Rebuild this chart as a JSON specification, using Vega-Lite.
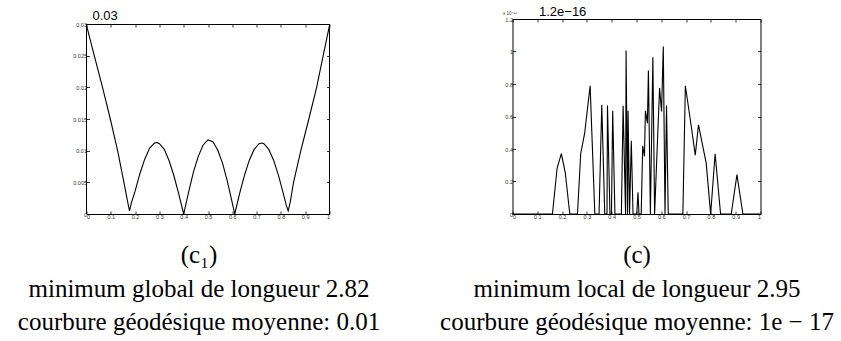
{
  "$schema": "https://vega.github.io/schema/vega-lite/v6.json",
  "background": "white",
  "padding": {"left": 16.5, "top": 5, "right": 5, "bottom": 0},
  "spacing": 183,
  "bounds": "flush",
  "config": {
    "view": {"stroke": null},
    "axis": {
      "grid": false,
      "domainColor": "black",
      "domainWidth": 1,
      "tickColor": "black",
      "tickWidth": 0.8,
      "tickSize": -3,
      "labelFont": "Liberation Sans",
      "labelFontSize": 5.5,
      "labelColor": "#333",
      "labelPadding": 3,
      "titleFont": "Liberation Serif",
      "titleFontSize": 25,
      "titleFontWeight": "normal",
      "titleColor": "black",
      "titleLineHeight": 33.5
    }
  },
  "hconcat": [
    {
      "width": 243,
      "height": 195,
      "data": {"values": [
        {"x": 0, "y": 0.0298},
        {"x": 0.032, "y": 0.025},
        {"x": 0.066, "y": 0.02},
        {"x": 0.098, "y": 0.015},
        {"x": 0.128, "y": 0.01},
        {"x": 0.154, "y": 0.005},
        {"x": 0.170, "y": 0.0018},
        {"x": 0.177, "y": 0.0005},
        {"x": 0.185, "y": 0.0018},
        {"x": 0.20, "y": 0.0036},
        {"x": 0.22, "y": 0.0064},
        {"x": 0.24, "y": 0.0087},
        {"x": 0.26, "y": 0.0104},
        {"x": 0.28, "y": 0.0112},
        {"x": 0.29, "y": 0.0113},
        {"x": 0.30, "y": 0.0111},
        {"x": 0.32, "y": 0.0102},
        {"x": 0.34, "y": 0.0084},
        {"x": 0.36, "y": 0.0060},
        {"x": 0.38, "y": 0.0031},
        {"x": 0.40, "y": 0.0},
        {"x": 0.42, "y": 0.0034},
        {"x": 0.44, "y": 0.0066},
        {"x": 0.46, "y": 0.0091},
        {"x": 0.48, "y": 0.0109},
        {"x": 0.50, "y": 0.0117},
        {"x": 0.52, "y": 0.0114},
        {"x": 0.54, "y": 0.0101},
        {"x": 0.56, "y": 0.0080},
        {"x": 0.58, "y": 0.0051},
        {"x": 0.60, "y": 0.0017},
        {"x": 0.61, "y": 0.0},
        {"x": 0.63, "y": 0.0032},
        {"x": 0.65, "y": 0.0061},
        {"x": 0.67, "y": 0.0085},
        {"x": 0.69, "y": 0.0102},
        {"x": 0.71, "y": 0.0111},
        {"x": 0.72, "y": 0.0112},
        {"x": 0.73, "y": 0.0111},
        {"x": 0.75, "y": 0.0102},
        {"x": 0.77, "y": 0.0085},
        {"x": 0.79, "y": 0.0061},
        {"x": 0.81, "y": 0.0032},
        {"x": 0.822, "y": 0.0014},
        {"x": 0.83, "y": 0.0005},
        {"x": 0.838, "y": 0.0018},
        {"x": 0.852, "y": 0.005},
        {"x": 0.882, "y": 0.01},
        {"x": 0.915, "y": 0.015},
        {"x": 0.947, "y": 0.02},
        {"x": 0.974, "y": 0.025},
        {"x": 1.0, "y": 0.0298}
      ]},
      "layer": [
        {
          "mark": {"type": "line", "color": "black", "strokeWidth": 1.1},
          "encoding": {
            "x": {"field": "x", "type": "quantitative", "scale": {"domain": [0, 1], "nice": false},
              "axis": {"orient": "bottom", "values": [0, 0.1, 0.2, 0.3, 0.4, 0.5, 0.6, 0.7, 0.8, 0.9, 1], "format": "~g",
                "title": ["(c₁)", "minimum global de longueur 2.82", "courbure géodésique moyenne: 0.01"], "titlePadding": 23, "titleX": 112}},
            "y": {"field": "y", "type": "quantitative", "scale": {"domain": [0, 0.0307895], "nice": false, "zero": false},
              "axis": {"orient": "left", "values": [0, 0.005, 0.01, 0.015, 0.02, 0.025, 0.03], "format": "~g", "title": null, "domain": false}}
          }
        },
        {
          "mark": {"type": "line", "opacity": 0},
          "encoding": {
            "x": {"field": "x", "type": "quantitative",
              "axis": {"orient": "top", "offset": -5, "values": [0, 0.1, 0.2, 0.3, 0.4, 0.5, 0.6, 0.7, 0.8, 0.9, 1], "labels": false,
                "title": "0.03", "titleAngle": 0, "titleFont": "Liberation Sans", "titleFontSize": 13, "titleColor": "black",
                "titleAlign": "left", "titleBaseline": "alphabetic", "titleX": 5.5, "titleY": -5}},
            "y": {"field": "y", "type": "quantitative",
              "axis": {"orient": "right", "values": [0, 0.005, 0.01, 0.015, 0.02, 0.025, 0.03], "labels": false, "title": null, "domain": false}}
          }
        },
        {
          "data": {"values": [{"side": 0}, {"side": 1}]},
          "mark": {"type": "rule", "color": "black", "strokeWidth": 1},
          "encoding": {
            "x": {"field": "side", "type": "quantitative", "axis": null},
            "y": {"datum": 0, "type": "quantitative", "axis": null},
            "y2": {"datum": 0.03}
          }
        }
      ],
      "resolve": {"axis": {"x": "independent", "y": "independent"}}
    },
    {
      "width": 248,
      "height": 195,
      "data": {"values": [
        {"x": 0, "y": 0},
        {"x": 0.161, "y": 0},
        {"x": 0.180, "y": 0.283},
        {"x": 0.197, "y": 0.371},
        {"x": 0.213, "y": 0.252},
        {"x": 0.231, "y": 0},
        {"x": 0.262, "y": 0},
        {"x": 0.275, "y": 0.371},
        {"x": 0.291, "y": 0.498},
        {"x": 0.313, "y": 0.789},
        {"x": 0.332, "y": 0},
        {"x": 0.349, "y": 0},
        {"x": 0.360, "y": 0.672},
        {"x": 0.372, "y": 0},
        {"x": 0.381, "y": 0},
        {"x": 0.383, "y": 0.668},
        {"x": 0.393, "y": 0},
        {"x": 0.399, "y": 0},
        {"x": 0.404, "y": 0.635},
        {"x": 0.413, "y": 0},
        {"x": 0.439, "y": 0},
        {"x": 0.446, "y": 0.666},
        {"x": 0.456, "y": 0},
        {"x": 0.458, "y": 1.006},
        {"x": 0.464, "y": 0},
        {"x": 0.466, "y": 0.635},
        {"x": 0.472, "y": 0},
        {"x": 0.479, "y": 0.451},
        {"x": 0.486, "y": 0},
        {"x": 0.501, "y": 0},
        {"x": 0.506, "y": 0.133},
        {"x": 0.510, "y": 0},
        {"x": 0.519, "y": 0},
        {"x": 0.525, "y": 0.42},
        {"x": 0.532, "y": 0.354},
        {"x": 0.536, "y": 0.635},
        {"x": 0.544, "y": 0.559},
        {"x": 0.548, "y": 0.883},
        {"x": 0.556, "y": 0},
        {"x": 0.566, "y": 0.965},
        {"x": 0.573, "y": 0},
        {"x": 0.593, "y": 0.776},
        {"x": 0.601, "y": 0.631},
        {"x": 0.608, "y": 1.03},
        {"x": 0.615, "y": 0},
        {"x": 0.621, "y": 0.668},
        {"x": 0.628, "y": 0},
        {"x": 0.687, "y": 0},
        {"x": 0.697, "y": 0.789},
        {"x": 0.717, "y": 0.580},
        {"x": 0.737, "y": 0.362},
        {"x": 0.750, "y": 0.549},
        {"x": 0.781, "y": 0.313},
        {"x": 0.799, "y": 0},
        {"x": 0.817, "y": 0.371},
        {"x": 0.839, "y": 0},
        {"x": 0.882, "y": 0},
        {"x": 0.905, "y": 0.242},
        {"x": 0.929, "y": 0},
        {"x": 1.0, "y": 0}
      ]},
      "layer": [
        {
          "mark": {"type": "line", "color": "black", "strokeWidth": 1.1},
          "encoding": {
            "x": {"field": "x", "type": "quantitative", "scale": {"domain": [0, 1], "nice": false},
              "axis": {"orient": "bottom", "values": [0, 0.1, 0.2, 0.3, 0.4, 0.5, 0.6, 0.7, 0.8, 0.9, 1], "format": "~g",
                "title": ["(c)", "minimum local de longueur 2.95", "courbure géodésique moyenne: 1e − 17"], "titlePadding": 23}},
            "y": {"field": "y", "type": "quantitative", "scale": {"domain": [0, 1.2], "nice": false},
              "axis": {"orient": "left", "values": [0, 0.2, 0.4, 0.6, 0.8, 1, 1.2], "format": "~g",
                "title": "x 10⁻¹⁶", "titleAngle": 0, "titleFont": "Liberation Sans", "titleFontSize": 4.5, "titleColor": "#333",
                "titleAlign": "left", "titleBaseline": "bottom", "titleX": -10, "titleY": -4, "titleLineHeight": 5}}
          }
        },
        {
          "mark": {"type": "line", "opacity": 0},
          "encoding": {
            "x": {"field": "x", "type": "quantitative",
              "axis": {"orient": "top", "values": [0, 0.1, 0.2, 0.3, 0.4, 0.5, 0.6, 0.7, 0.8, 0.9, 1], "labels": false,
                "title": "1.2e−16", "titleAngle": 0, "titleFont": "Liberation Sans", "titleFontSize": 13, "titleColor": "black",
                "titleAlign": "left", "titleBaseline": "alphabetic", "titleX": 26, "titleY": -4}},
            "y": {"field": "y", "type": "quantitative",
              "axis": {"orient": "right", "values": [0, 0.2, 0.4, 0.6, 0.8, 1, 1.2], "labels": false, "title": null}}
          }
        }
      ],
      "resolve": {"axis": {"x": "independent", "y": "independent"}}
    }
  ]
}
